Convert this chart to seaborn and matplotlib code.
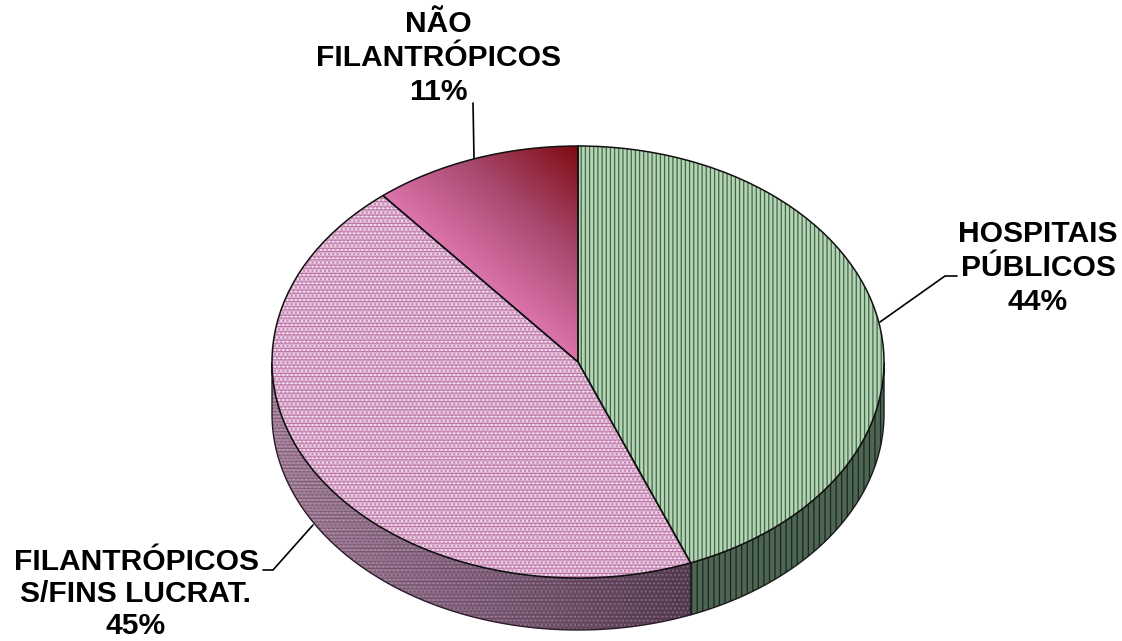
import numpy as np
import matplotlib
matplotlib.use("Agg")
import matplotlib.pyplot as plt
import matplotlib.transforms as mt
from matplotlib.colors import LinearSegmentedColormap
from matplotlib.patches import Polygon
import seaborn as sns

categories = ["HOSPITAIS\nPÚBLICOS", "FILANTRÓPICOS\nS/FINS LUCRAT.", "NÃO\nFILANTRÓPICOS"]
shares = [44, 45, 11]

sns.set_theme(style="white")
plt.rcParams["font.family"] = ["Liberation Sans", "DejaVu Sans"]
plt.rcParams["hatch.linewidth"] = 0.9

W, H = 1122, 641
CX, CY, RX, RY, DEPTH = 578, 362, 306, 216, 52
depth = DEPTH / RY

fig = plt.figure(figsize=(W / 100, H / 100), dpi=100, facecolor="white")
ax = fig.add_axes([0, 0, 1, 1])
pix = mt.Affine2D().scale(1, -1).translate(0, H)

fractions = np.array(shares) / sum(shares)
edges = 90 - 360 * np.concatenate([[0], np.cumsum(fractions)])


def side_polygon(a0, a1):
    t = np.radians(np.linspace(a0, a1, 200))
    x, y = np.cos(t), np.sin(t)
    return np.column_stack([np.r_[x, x[::-1]], np.r_[y, y[::-1] - depth]])


# side walls (visible lower half of the first two slices)
side_green = side_polygon(edges[1], 0)
side_pink = side_polygon(-180, edges[1])
xlim = (-CX / RX, (W - CX) / RX)
ylim = ((CY - H) / RY, CY / RY)

pink_side_cmap = LinearSegmentedColormap.from_list("ps", ["#A8849F", "#82607C", "#523A4E"])
grad = np.linspace(0, 1, 256).reshape(1, -1)
poly = Polygon(side_pink, closed=True, fc="none", ec="none", transform=ax.transData)
ax.add_patch(poly)
im = ax.imshow(grad, extent=(-1, np.cos(np.radians(edges[1])), -1.3, 0.1),
               cmap=pink_side_cmap, aspect="auto", zorder=1)
im.set_clip_path(poly)
ax.add_patch(Polygon(side_pink, closed=True, fc="none", ec="#4E3549", hatch="-----", lw=0, zorder=1.1, alpha=0.45))
ax.add_patch(Polygon(side_pink, closed=True, fc="none", ec="#D8BCD2", hatch="....", lw=0, zorder=1.2, alpha=0.3))
ax.add_patch(Polygon(side_green, closed=True, fc="#4F6554", ec="#16281B", hatch="|||", lw=0, zorder=1.1))
ax.add_patch(Polygon(side_green, closed=True, fc="none", ec="#1A1A1A", lw=1, zorder=1.3))
ax.add_patch(Polygon(side_pink, closed=True, fc="none", ec="#2A1A28", lw=1, zorder=1.3))

# top face
wedges, _ = ax.pie(shares, startangle=90, counterclock=False, radius=1, center=(0, 0),
                   colors=["#B7D2B5", "#DDB0D0", "#C06090"], frame=False,
                   wedgeprops={"zorder": 2, "linewidth": 0})
wedges[0].set(hatch="||||", edgecolor="#3A6B47", linewidth=0)
wedges[1].set(hatch="------", edgecolor="#BC78A8", linewidth=0)

dots, _ = ax.pie(shares, startangle=90, counterclock=False, radius=1, center=(0, 0), frame=False,
                 colors=["none", "none", "none"], wedgeprops={"zorder": 2.1, "linewidth": 0})
dots[1].set(hatch="....", edgecolor="#F6E6F2", linewidth=0)
dots[0].set_visible(False)
dots[2].set_visible(False)

# gradient on the small slice
grad_cmap = LinearSegmentedColormap.from_list("gr", ["#E078B0", "#A84A70", "#800A10"])
a = np.cos(np.radians(edges[2]))
yy, xx = np.mgrid[0:1:200j, a:0:200j]
tone = np.clip(1.16 * xx + 0.95 * yy + 0.05, 0, 1)
im2 = ax.imshow(tone, origin="lower", extent=(a, 0.0, 0.0, 1.0), cmap=grad_cmap,
                aspect="auto", zorder=2.2)
im2.set_clip_path(wedges[2])

outline, _ = ax.pie(shares, startangle=90, counterclock=False, radius=1, center=(0, 0), frame=False,
                    colors=["none"] * 3, wedgeprops={"zorder": 3, "linewidth": 1.1, "edgecolor": "#111111"})

ax.set_aspect("auto")
ax.set_xlim(*xlim)
ax.set_ylim(*ylim)
ax.axis("off")

# leaders and labels
leaders = [[(880, 322), (945, 276), (957, 276)],
           [(313, 525), (273, 570), (263, 570)],
           [(474, 158), (473, 103)]]
for pts in leaders:
    xs, ys = zip(*pts)
    ax.plot(xs, ys, color="black", lw=1.2, transform=pix, zorder=4, solid_joinstyle="miter")

anchors = [(1038, 268), (136, 594), (438, 58)]
spacings = [1.26, 1.17, 1.26]
for cat, share, (x, y), sp in zip(categories, shares, anchors, spacings):
    ax.text(x, y, f"{cat}\n{share}%", transform=pix, ha="center", va="center", fontsize=21.6,
            fontweight="bold", color="black", linespacing=sp, zorder=5)

fig.savefig("out.png", dpi=100, facecolor="white")
